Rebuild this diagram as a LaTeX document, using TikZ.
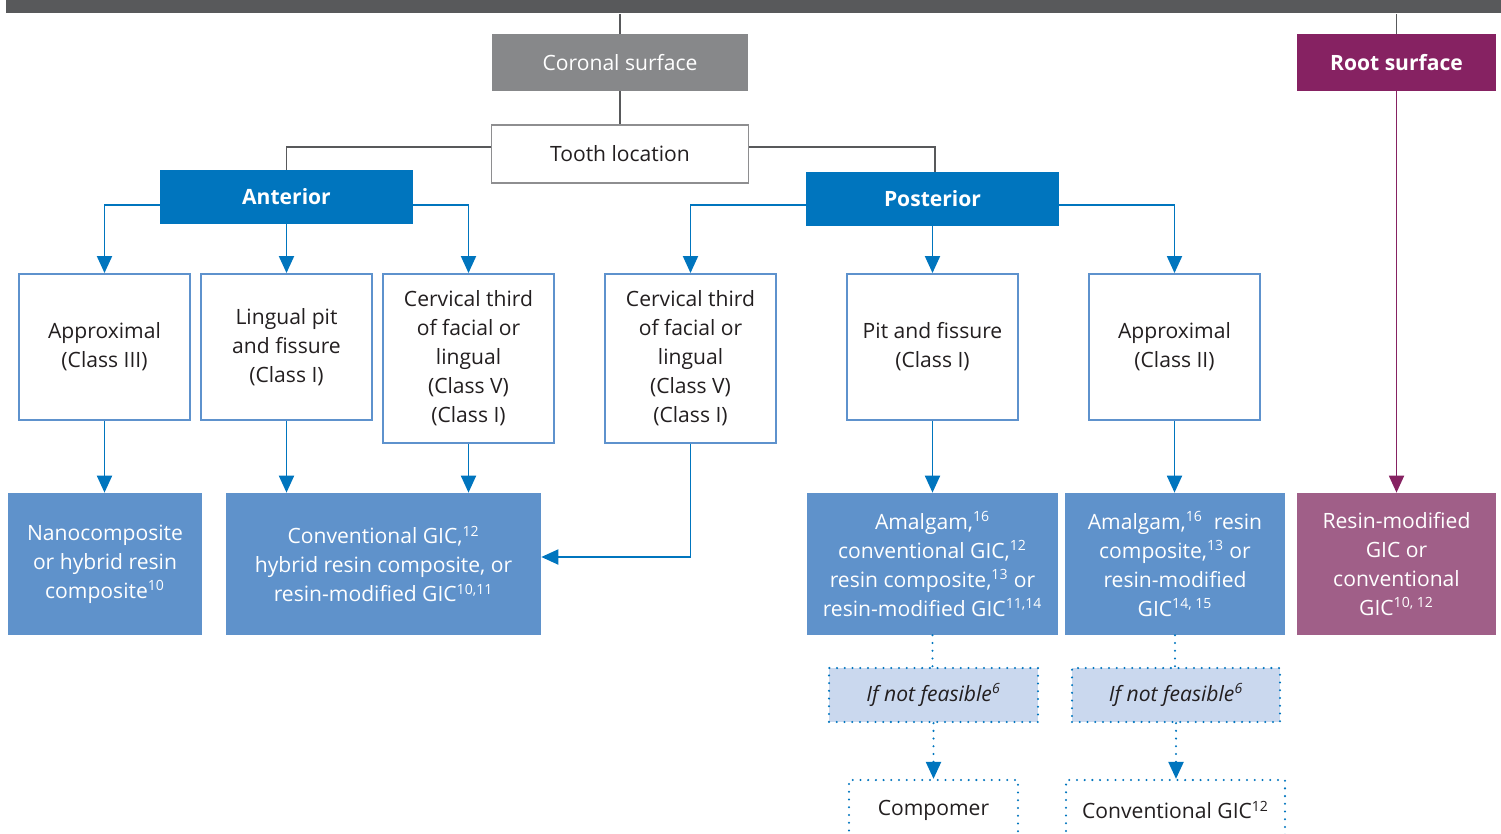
\documentclass[tikz,border=0pt]{standalone}
\usepackage{fontspec}
\setmainfont{Open Sans}
\usepackage{xcolor}
\usepackage{tikz}
\usetikzlibrary{positioning}
\usetikzlibrary{arrows.meta}
\definecolor{bar_grey}{HTML}{58595B}
\definecolor{box_grey}{HTML}{87888A}
\definecolor{edge_grey}{HTML}{8E8E90}
\definecolor{text_dark}{HTML}{231F20}
\definecolor{main_blue}{HTML}{0075BE}
\definecolor{frame_blue}{HTML}{5E92CD}
\definecolor{fill_blue}{HTML}{5F92CB}
\definecolor{pale_blue}{HTML}{CAD8EE}
\definecolor{root_purple}{HTML}{862262}
\definecolor{fill_purple}{HTML}{A05F88}
\tikzset{my_chart/.style={x=0.02cm,y=-0.02cm,font=\fontsize{12}{16.5}\selectfont,>={Triangle[width=0.3cm,length=0.34cm]}}}
\tikzset{my_box/.style={rectangle, inner sep=0pt, align=center}}
\tikzset{my_grey_box/.style={my_box, fill=box_grey, text=white, minimum width=5.12cm, minimum height=1.14cm}}
\tikzset{my_outline_box/.style={my_box, draw=edge_grey, line width=1.1pt, fill=white, text=text_dark, minimum width=5.14cm, minimum height=1.16cm}}
\tikzset{my_head_box/.style={my_box, fill=main_blue, text=white, font=\fontsize{12}{16.5}\selectfont\bfseries, minimum width=5.06cm, minimum height=1.08cm}}
\tikzset{my_root_box/.style={my_box, fill=root_purple, text=white, font=\fontsize{12}{16.5}\selectfont\bfseries, minimum width=3.98cm, minimum height=1.14cm}}
\tikzset{my_site_box/.style={my_box, draw=frame_blue, line width=1.1pt, fill=white, text=text_dark, minimum width=3.42cm, minimum height=#1}}
\tikzset{my_fill_box/.style={my_box, fill=fill_blue, text=white, minimum height=2.84cm, minimum width=#1}}
\tikzset{my_dotted/.style={line width=1.3pt, dash pattern=on 0pt off 4.4pt, line cap=round}}
\tikzset{my_alt_box/.style={my_box, draw=main_blue, my_dotted, minimum height=#1}}
\tikzset{my_grey_line/.style={draw=bar_grey, line width=1.1pt}}
\tikzset{my_blue_arrow/.style={->, draw=main_blue, line width=1.1pt}}
\tikzset{my_dotted_line/.style={draw=main_blue, my_dotted}}

\begin{document}
\begin{tikzpicture}[my_chart]
    \useasboundingbox (0,0) rectangle (1501,834);
    %\draw[help lines] (0,0) grid[step=100] (1501,834);
    \node[fill=bar_grey, minimum width=29.9cm, minimum height=0.27cm, inner sep=0pt] (bar) at (753.5,6.75) {};
    \node[my_grey_box] (coronal) at (620,62.5) {Coronal surface};
    \node[my_outline_box] (tooth) at (620,154) {Tooth location};
    \node[my_root_box] (root) at (1396.5,62.5) {Root surface};
    \node[my_head_box] (anterior) at (286.5,197) {Anterior};
    \node[my_head_box] (posterior) at (932.5,199) {Posterior};

    \node[my_site_box=2.92cm] (appr3) at (104.5,347) {Approximal\\(Class III)};
    \node[my_site_box=2.92cm] (lingual) at (286.5,347) {Lingual pit\\and fissure\\(Class I)};
    \node[my_site_box=3.38cm] (cerv_a) at (468.5,358.5) {Cervical third\\of facial or\\lingual\\(Class V)\\(Class I)};
    \node[my_site_box=3.38cm] (cerv_p) at (690.5,358.5) {Cervical third\\of facial or\\lingual\\(Class V)\\(Class I)};
    \node[my_site_box=2.92cm] (pit) at (932.5,347) {Pit and fissure\\(Class I)};
    \node[my_site_box=2.92cm] (appr2) at (1174.5,347) {Approximal\\(Class II)};

    \node[my_fill_box=3.88cm] (nano) at (105,564) {Nanocomposite\\or hybrid resin\\composite\textsuperscript{10}};
    \node[my_fill_box=6.3cm] (conv_a) at (383.5,564) {Conventional GIC,\textsuperscript{12}\\hybrid resin composite, or\\resin-modified GIC\textsuperscript{10,11}};
    \node[my_fill_box=5.02cm] (amal1) at (932.5,564) {Amalgam,\textsuperscript{16}\\conventional GIC,\textsuperscript{12}\\resin composite,\textsuperscript{13} or\\resin-modified GIC\textsuperscript{11,14}};
    \node[my_fill_box=4.4cm] (amal2) at (1175,564) {Amalgam,\textsuperscript{16}\ \ resin\\composite,\textsuperscript{13} or\\resin-modified\\GIC\textsuperscript{14, 15}};
    \node[my_fill_box=3.98cm, fill=fill_purple] (root_res) at (1396.5,564) {Resin-modified\\GIC or\\conventional\\GIC\textsuperscript{10, 12}};

    \node[my_alt_box=1.08cm, fill=pale_blue, text=text_dark, minimum width=4.18cm] (nf1) at (933.5,695) {\textit{If not feasible\textsuperscript{6}}};
    \node[my_alt_box=1.08cm, fill=pale_blue, text=text_dark, minimum width=4.16cm] (nf2) at (1176,695) {\textit{If not feasible\textsuperscript{6}}};
    \node[my_alt_box=1.2cm, fill=white, text=text_dark, minimum width=3.38cm] (comp) at (933.5,810) {Compomer};
    \node[my_alt_box=1.2cm, fill=white, text=text_dark, minimum width=4.38cm] (conv12) at (1175.5,810) {Conventional GIC\textsuperscript{12}};

    % top of the tree
    \draw[my_grey_line] (bar.south -| coronal.north) -- (coronal.north);
    \draw[my_grey_line] (coronal) -- (tooth);
    \draw[my_grey_line] ([yshift=0.14cm]tooth.west) -| (anterior.north);
    \draw[my_grey_line] ([yshift=0.14cm]tooth.east) -| ([xshift=0.05cm]posterior.north);
    \draw[my_grey_line] (bar.south -| root.north) -- (root.north);
    \draw[my_blue_arrow, draw=root_purple] (root) -- (root_res);

    % anterior
    \draw[my_blue_arrow] ([yshift=-0.16cm]anterior.west) -| (appr3.north);
    \draw[my_blue_arrow] (anterior) -- (lingual);
    \draw[my_blue_arrow] ([yshift=-0.16cm]anterior.east) -| (cerv_a.north);
    \draw[my_blue_arrow] (appr3.south) -- (appr3.south |- nano.north);
    \draw[my_blue_arrow] (lingual.south) -- (lingual.south |- conv_a.north);
    \draw[my_blue_arrow] (cerv_a.south) -- (cerv_a.south |- conv_a.north);

    % posterior
    \draw[my_blue_arrow] ([yshift=-0.12cm]posterior.west) -| (cerv_p.north);
    \draw[my_blue_arrow] (posterior) -- (pit);
    \draw[my_blue_arrow] ([yshift=-0.12cm]posterior.east) -| (appr2.north);
    \draw[my_blue_arrow] (cerv_p.south) |- ([yshift=0.14cm]conv_a.east);
    \draw[my_blue_arrow] (pit) -- (amal1);
    \draw[my_blue_arrow] (appr2.south) -- (appr2.south |- amal2.north);

    % fallbacks
    \draw[my_dotted_line] (amal1.south) -- (amal1.south |- nf1.north);
    \draw[my_dotted_line, ->] (nf1) -- (comp);
    \draw[my_dotted_line] (amal2.south) -- (amal2.south |- nf2.north);
    \draw[my_dotted_line, ->] (nf2.south) -- (nf2.south |- conv12.north);
\end{tikzpicture}
\end{document}
